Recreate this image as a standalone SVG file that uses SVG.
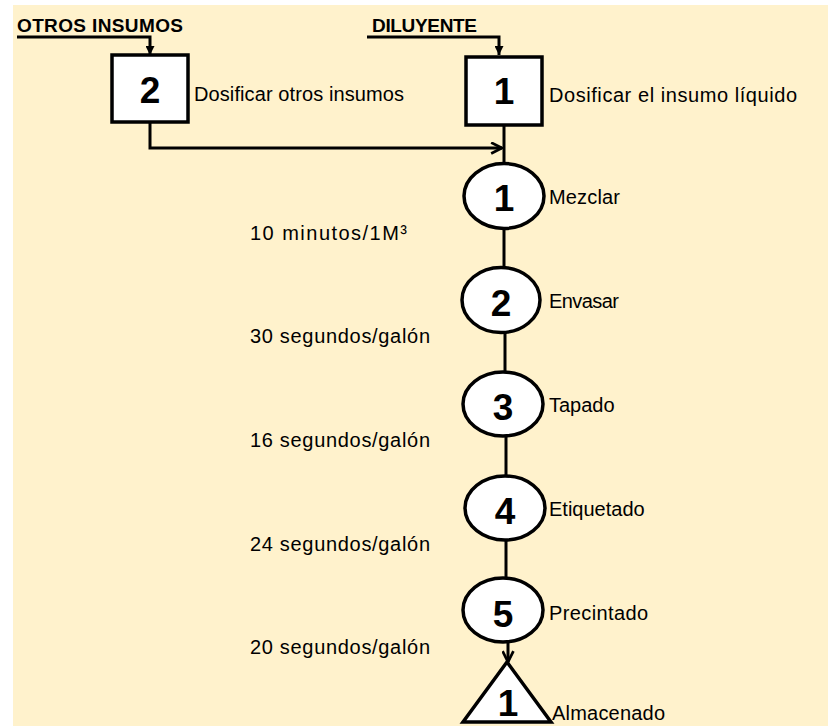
<svg xmlns="http://www.w3.org/2000/svg" width="830" height="726" viewBox="0 0 830 726">
<style>
.lbl{font-family:"Liberation Sans",Arial,sans-serif;font-size:20px;fill:#000}
.hdr{font-family:"Liberation Sans",Arial,sans-serif;font-size:19px;font-weight:bold;fill:#000}
.num{font-family:"Liberation Sans",Arial,sans-serif;font-size:37px;font-weight:bold;fill:#000;text-anchor:middle}
.shape{fill:#fff;stroke:#000;stroke-width:3.5}
.ln{fill:none;stroke:#000;stroke-width:3}
</style>
<defs>
<marker id="af" viewBox="0 0 10 10" refX="10" refY="5" markerUnits="userSpaceOnUse" markerWidth="9" markerHeight="9" orient="auto">
<path d="M0,0 L10,5 L0,10 z" fill="#000"/>
</marker>
<marker id="ao" viewBox="0 0 12 12" refX="11" refY="6" markerUnits="userSpaceOnUse" markerWidth="13" markerHeight="13" orient="auto">
<path d="M1,1 L11,6 L1,11" fill="none" stroke="#000" stroke-width="2.5"/>
</marker>
</defs>
<rect x="13" y="5" width="815" height="721" fill="#FFF2CC"/>
<g id="connectors">
<path class="ln" d="M17,37 H150 V55" marker-end="url(#af)"/>
<path class="ln" d="M367,37 H499 V55" marker-end="url(#af)"/>
<path class="ln" d="M150,122 V148 H502" marker-end="url(#ao)"/>
<path class="ln" d="M504,125 V163"/>
<path class="ln" d="M504,228 V267"/>
<path class="ln" d="M505,332 V372"/>
<path class="ln" d="M506,436 V476"/>
<path class="ln" d="M506,540 V578"/>
<path class="ln" d="M508,642 V662" marker-end="url(#ao)"/>
</g>
<g id="hdr-otros"><text class="hdr" x="17" y="32" textLength="166">OTROS INSUMOS</text></g>
<g id="hdr-diluyente"><text class="hdr" x="372" y="32" textLength="105">DILUYENTE</text></g>
<g id="op2">
<rect class="shape" x="112" y="55" width="76" height="67"/>
<text class="num" x="150" y="103">2</text>
<text class="lbl" x="194" y="101" textLength="210">Dosificar otros insumos</text>
</g>
<g id="op1">
<rect class="shape" x="466" y="57" width="76" height="68"/>
<text class="num" x="504" y="104">1</text>
<text class="lbl" x="549" y="102" textLength="248">Dosificar el insumo líquido</text>
</g>
<g id="c1">
<ellipse class="shape" cx="504" cy="196" rx="40" ry="32.5"/>
<text class="num" x="504" y="211">1</text>
<text class="lbl" x="549" y="204" textLength="71">Mezclar</text>
</g>
<g id="c2">
<ellipse class="shape" cx="501" cy="300" rx="39" ry="32.5"/>
<text class="num" x="501" y="316">2</text>
<text class="lbl" x="549" y="308" textLength="70">Envasar</text>
</g>
<g id="c3">
<ellipse class="shape" cx="503" cy="404" rx="40" ry="32"/>
<text class="num" x="503" y="420">3</text>
<text class="lbl" x="549" y="412">Tapado</text>
</g>
<g id="c4">
<ellipse class="shape" cx="505" cy="508" rx="40" ry="32"/>
<text class="num" x="505" y="524">4</text>
<text class="lbl" x="549" y="516">Etiquetado</text>
</g>
<g id="c5">
<ellipse class="shape" cx="503" cy="610" rx="40" ry="32"/>
<text class="num" x="503" y="627">5</text>
<text class="lbl" x="549" y="620" textLength="99">Precintado</text>
</g>
<g id="store1">
<polygon class="shape" points="507,662 463,722 551,722"/>
<text class="num" x="508" y="716">1</text>
<text class="lbl" x="552" y="720" textLength="113">Almacenado</text>
</g>
<g id="times">
<text class="lbl" x="250" y="240" textLength="157">10 minutos/1M³</text>
<text class="lbl" x="250" y="343" textLength="180">30 segundos/galón</text>
<text class="lbl" x="250" y="447" textLength="180">16 segundos/galón</text>
<text class="lbl" x="250" y="551" textLength="180">24 segundos/galón</text>
<text class="lbl" x="250" y="654" textLength="180">20 segundos/galón</text>
</g>
</svg>
